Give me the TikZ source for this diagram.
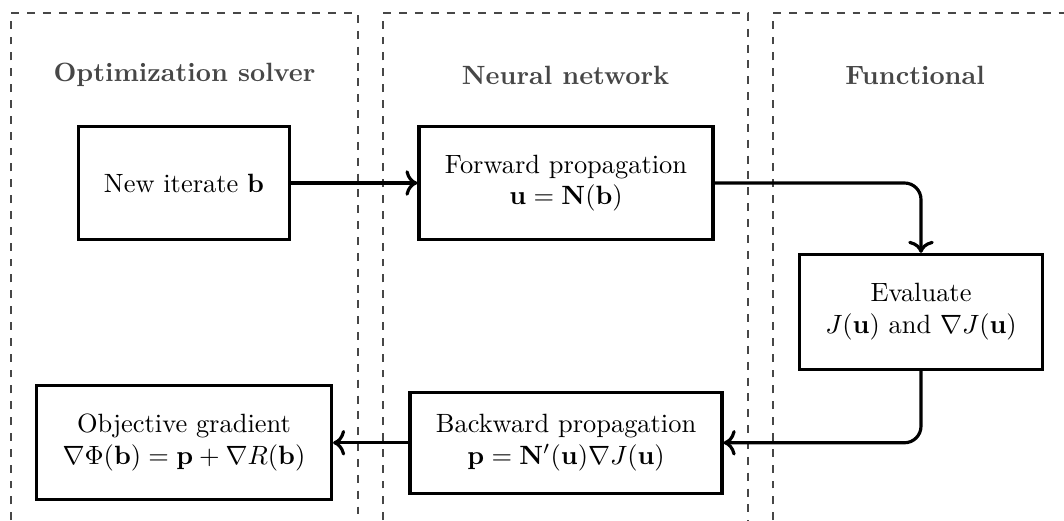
\documentclass[tikz,border=0pt]{standalone}
\usepackage{amsmath,amssymb}
\usepackage{tikz}
\usetikzlibrary{arrows.meta,positioning,calc}
\tikzset{
  blk/.style  ={draw,very thick,align=center,fill=white,inner sep=3pt},
  hd/.style   ={font=\bfseries,text=black!72,align=center},
  lane/.style ={dashed,line width=1pt,draw=black!72},
  ar/.style   ={very thick,-{Computer Modern Rightarrow[length=1.6mm,width=3.4mm]}},
}
\newcommand{\bv}[1]{\mathbf{#1}}

\begin{document}
\begin{tikzpicture}
\clip (0,0) rectangle (14.151,6.929);
% lanes
\foreach \l/\r in {0.146/4.761,5.094/9.948,10.281/14.6}
  \draw[lane] (\l,-0.2) |- (\r,6.756) -- (\r,-0.2);
\node[hd] (hOpt) at (2.454,5.932) {Optimization solver};
\node[hd] (hNet) at (7.521,5.932) {Neural network};
\node[hd] (hFun) at (12.17,5.932) {Functional};
% blocks
\node[blk,minimum width=2.806cm,minimum height=1.503cm] (NI) at (2.447,4.495) {New iterate $\bv{b}$};
\node[blk,minimum width=3.910cm,minimum height=1.503cm] (FP) at (7.528,4.495)
  {Forward propagation\\$\bv{u}=\bv{N}(\bv{b})$};
\node[blk,minimum width=3.232cm,minimum height=1.530cm] (EV) at (12.249,2.780)
  {Evaluate\\$J(\bv{u})$ and $\nabla J(\bv{u})$};
\node[blk,minimum width=4.150cm,minimum height=1.343cm] (BP) at (7.528,1.040)
  {Backward propagation\\$\bv{p}=\bv{N}'(\bv{u})\nabla J(\bv{u})$};
\node[blk,minimum width=3.924cm,minimum height=1.516cm] (OG) at (2.447,1.040)
  {Objective gradient\\$\nabla\Phi(\bv{b})=\bv{p}+\nabla R(\bv{b})$};
% flow
\draw[ar] (NI) -- (FP);
\draw[ar,rounded corners=0.22cm] (FP.east) -| (EV.north);
\draw[ar,rounded corners=0.22cm] (EV.south) |- (BP.east);
\draw[ar] (BP) -- (OG);
\end{tikzpicture}
\end{document}
